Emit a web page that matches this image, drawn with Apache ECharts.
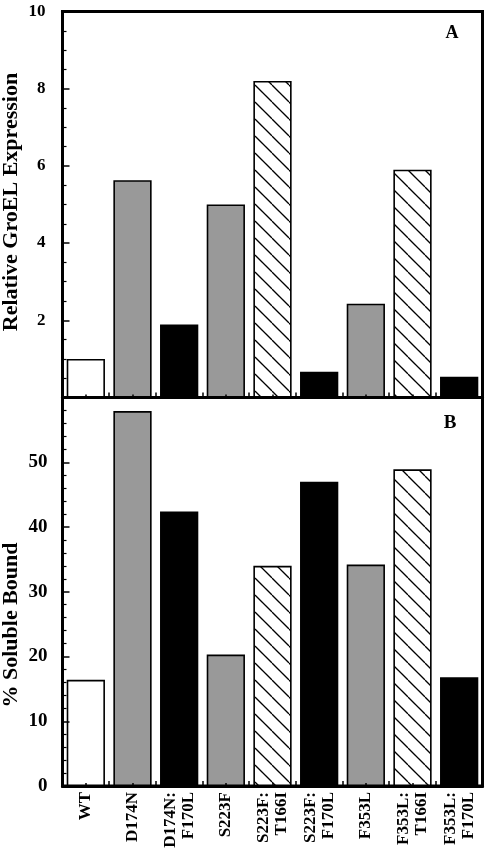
<!DOCTYPE html>
<html>
<head>
<meta charset="utf-8">
<script src="https://cdn.jsdelivr.net/npm/echarts@6/dist/echarts.min.js"></script>
<style>
html,body{margin:0;padding:0;background:#fff;}
#c{width:485px;height:853px;}
</style>
</head>
<body>
<div id="c"></div>
<script>
// ---- data ----
var categories = ['WT', 'D174N', 'D174N:F170L', 'S223F', 'S223F:T166I', 'S223F:F170L', 'F353L', 'F353L:T166I', 'F353L:F170L'];
var groelExpression = [1.0, 5.63, 1.89, 5.0, 8.2, 0.67, 2.43, 5.9, 0.54];
var solubleBound = [16.4, 57.9, 42.4, 20.3, 34.0, 47.0, 34.2, 48.9, 16.8];
var barKind = ['white', 'gray', 'black', 'gray', 'hatch', 'black', 'gray', 'hatch', 'black'];
var groelTicks = [0, 10, 2];   // min, max, interval
var solubleTicks = [0, 60, 10];

// ---- hatch pattern ----
function makeHatch() {
  var s = 17;
  var cv = document.createElement('canvas');
  cv.width = s; cv.height = s;
  var ctx = cv.getContext('2d');
  ctx.fillStyle = '#fff';
  ctx.fillRect(0, 0, s, s);
  ctx.strokeStyle = '#000';
  ctx.lineWidth = 1.3;
  for (var k = -1; k <= 1; k++) {
    ctx.beginPath();
    ctx.moveTo(k * s, 0);
    ctx.lineTo(k * s + s, s);
    ctx.stroke();
  }
  return cv;
}
var hatch = makeHatch();
function fillFor(kind) {
  if (kind === 'white') return '#ffffff';
  if (kind === 'gray') return '#999999';
  if (kind === 'black') return '#000000';
  return { image: hatch, repeat: 'repeat' };
}
function itemsFrom(values) {
  return values.map(function (v, i) {
    return {
      value: v,
      itemStyle: { color: fillFor(barKind[i]), borderColor: '#000', borderWidth: 1.6 }
    };
  });
}

var FONT = '"Liberation Serif", "Times New Roman", serif';
var chart = echarts.init(document.getElementById('c'), null, { renderer: 'canvas' });

var gridCommon = { left: 62.5, right: 2.5, show: true, borderColor: '#000', borderWidth: 3, backgroundColor: 'transparent' };

function catAxis(gridIndex, showLabels) {
  return {
    type: 'category', gridIndex: gridIndex, data: categories, z: 5,
    axisLine: { show: true, lineStyle: { color: '#000', width: 3 } },
    axisTick: { show: false },
    axisLabel: {
      show: showLabels, rotate: 90, margin: 6, interval: 0,
      fontFamily: FONT, fontWeight: 'bold', fontSize: 17, lineHeight: 18, color: '#000',
      formatter: function (v) { return v.replace(':', ':\n'); }
    }
  };
}
function tickAxis(gridIndex) {
  return {
    type: 'value', gridIndex: gridIndex, min: 0, max: categories.length, interval: 1, z: 6,
    position: 'bottom',
    axisLine: { show: false },
    axisLabel: { show: false },
    splitLine: { show: false },
    axisTick: { show: true, inside: true, length: 5, lineStyle: { color: '#000', width: 1.5 } },
    minorTick: { show: true, splitNumber: 2, length: 3, lineStyle: { color: '#000', width: 1.5 } }
  };
}
function valAxis(gridIndex, t, fontSize, margin, minorSplit) {
  return {
    type: 'value', gridIndex: gridIndex, min: t[0], max: t[1], interval: t[2], z: 5,
    axisLine: { show: true, lineStyle: { color: '#000', width: 3 } },
    axisTick: { show: true, inside: true, length: 7, lineStyle: { color: '#000', width: 1.5 } },
    minorTick: { show: true, splitNumber: minorSplit, length: 4, lineStyle: { color: '#000', width: 1.2 } },
    splitLine: { show: false },
    axisLabel: {
      margin: margin, fontFamily: FONT, fontWeight: 'bold', fontSize: fontSize, color: '#000',
      formatter: function (v) {
        if (gridIndex === 0 && v === t[0]) return '';
        if (gridIndex === 1 && v === t[1]) return '';
        return String(v);
      }
    }
  };
}

var option = {
  animation: false,
  backgroundColor: '#fff',
  grid: [
    Object.assign({ top: 11.5, height: 386 }, gridCommon),
    Object.assign({ top: 397.5, height: 388.5 }, gridCommon)
  ],
  xAxis: [catAxis(0, false), catAxis(1, true), tickAxis(0), tickAxis(1)],
  yAxis: [valAxis(0, groelTicks, 17, 17, 4), valAxis(1, solubleTicks, 19, 15, 5)],
  series: [
    { type: 'bar', xAxisIndex: 0, yAxisIndex: 0, data: itemsFrom(groelExpression), barCategoryGap: '18%' },
    { type: 'bar', xAxisIndex: 1, yAxisIndex: 1, data: itemsFrom(solubleBound), barCategoryGap: '18%' }
  ],
  graphic: [
    { type: 'text', x: 11, y: 202, rotation: Math.PI / 2, z: 10,
      style: { text: 'Relative GroEL Expression', font: 'bold 22px ' + FONT, fill: '#000', textAlign: 'center', textVerticalAlign: 'middle' } },
    { type: 'text', x: 11, y: 625, rotation: Math.PI / 2, z: 10,
      style: { text: '% Soluble Bound', font: 'bold 22px ' + FONT, fill: '#000', textAlign: 'center', textVerticalAlign: 'middle' } },
    { type: 'text', x: 452, y: 33, z: 10,
      style: { text: 'A', font: 'bold 18px ' + FONT, fill: '#000', textAlign: 'center', textVerticalAlign: 'middle' } },
    { type: 'text', x: 450, y: 423, z: 10,
      style: { text: 'B', font: 'bold 19px ' + FONT, fill: '#000', textAlign: 'center', textVerticalAlign: 'middle' } }
  ]
};
chart.setOption(option);
</script>
</body>
</html>
